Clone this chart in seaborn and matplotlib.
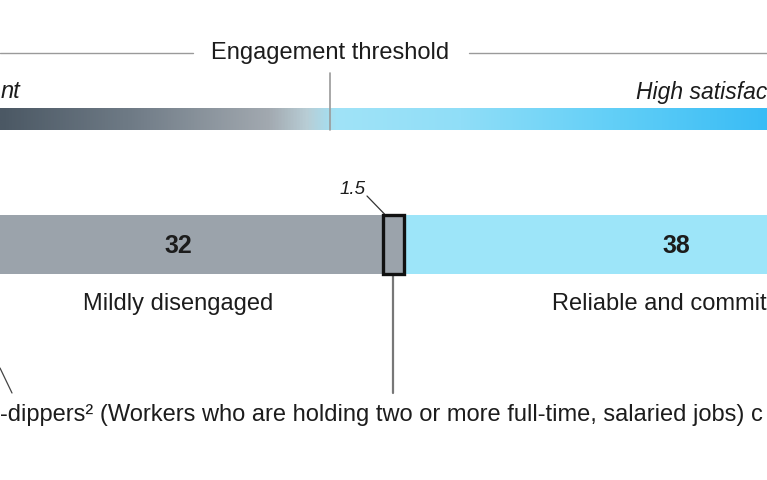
import numpy as np
import pandas as pd
import matplotlib
matplotlib.use("Agg")
import matplotlib.pyplot as plt
from matplotlib.colors import LinearSegmentedColormap
import seaborn as sns

# ---- data ----
segments = ["Mildly disengaged", "Double-dippers", "Reliable and commit"]
values = [32, 1.5, 38]
value_labels = ["32", "1.5", "38"]
seg_colors = ["#9ba3ab", "#9ba3ab", "#9de5f9"]

scale_left = "nt"
scale_right = "High satisfac"
threshold_label = "Engagement threshold"
footnote = "-dippers\u00b2 (Workers who are holding two or more full-time, salaried jobs) c"

grad_pos = [0.0, 0.17, 0.35, 0.40, 0.44, 0.60, 0.80, 1.0]
grad_cols = ["#4b5864", "#6f7b86", "#a2a9b0", "#b8cdd5", "#a0e3f7", "#90def8", "#62cff7", "#39bcf5"]

sns.set_theme(style="white")
plt.rcParams["font.family"] = ["Liberation Sans", "DejaVu Sans"]

W, H = 767, 480
fig = plt.figure(figsize=(W / 100, H / 100), dpi=100)
ax = fig.add_axes([0, 0, 1, 1])
PX = 13.73          # pixels per data unit
X0 = 4.1            # data value at left edge
ax.set_xlim(X0, X0 + W / PX)
ax.set_ylim(H, 0)
ax.axis("off")

def px(x):
    return X0 + x / PX

ink = "#1c1c1c"
linec = "#9a9a9a"

# ---- threshold header ----
ax.plot([px(0), px(193)], [53, 53], color=linec, lw=1)
ax.plot([px(469), px(W)], [53, 53], color=linec, lw=1)
ax.text(px(330), 53, threshold_label, ha="center", va="center", fontsize=17, color=ink)
ax.text(px(1), 92, scale_left, ha="left", va="center", fontsize=17, style="italic", color=ink)
ax.text(px(636), 92, scale_right, ha="left", va="center", fontsize=16.5, style="italic", color=ink)

# ---- gradient scale ----
cmap = LinearSegmentedColormap.from_list("eng", list(zip(grad_pos, grad_cols)))
grad = np.linspace(0, 1, 512)[None, :]
ax.imshow(grad, cmap=cmap, aspect="auto", extent=[px(0), px(W), 130, 108],
          interpolation="bilinear", zorder=1)
ax.plot([px(330), px(330)], [73, 130], color=linec, lw=1.2, zorder=2)

# ---- stacked bar ----
starts = np.concatenate([[0], np.cumsum(values)[:-1]])
ends = np.cumsum(values)
bax = fig.add_axes([0, 1 - 274 / H, 1, 59 / H])
bax.set_xlim(ax.get_xlim())
df = pd.DataFrame({"row": ["all"] * 2, "end": [ends[2], ends[0]],
                   "seg": [segments[2], segments[0]]})
sns.barplot(data=df, x="end", y="row", hue="seg", hue_order=[segments[2], segments[0]],
            palette=[seg_colors[2], seg_colors[0]], dodge=False, width=1, orient="h",
            errorbar=None, saturation=1, legend=False, ax=bax, linewidth=0)
box = bax.barh(0, values[1], left=starts[1], height=1, color=seg_colors[1],
               edgecolor="#111111", linewidth=2.4, zorder=5)
for p in box:
    p.set_clip_on(False)
bax.set_xlim(ax.get_xlim())
bax.set_ylim(0.5, -0.5)
bax.axis("off")

# value labels and segment names
bax.text(px(178), 0.03, value_labels[0], ha="center", va="center", fontsize=18,
         fontweight="bold", color=ink)
bax.text(px(676), 0.03, value_labels[2], ha="center", va="center", fontsize=18,
         fontweight="bold", color=ink)
ax.text(px(178), 304, segments[0], ha="center", va="center", fontsize=17, color=ink)
ax.text(px(552), 304, segments[2], ha="left", va="center", fontsize=17, color=ink)

# ---- 1.5 callout ----
bc = starts[1] + values[1] / 2
ax.text(px(366), 189, value_labels[1], ha="right", va="center", fontsize=13.5,
        style="italic", color=ink)
ax.plot([px(367), starts[1] + 0.1], [196, 214], color="#333333", lw=0.9)
ax.plot([bc, bc], [276, 393], color="#777777", lw=1.6)

# ---- footnote ----
ax.plot([px(0), px(12)], [368, 393], color="#444444", lw=0.9)
ax.text(px(0), 415, footnote, ha="left", va="center", fontsize=17, color=ink)

fig.savefig("out.png", dpi=100, facecolor="white")
